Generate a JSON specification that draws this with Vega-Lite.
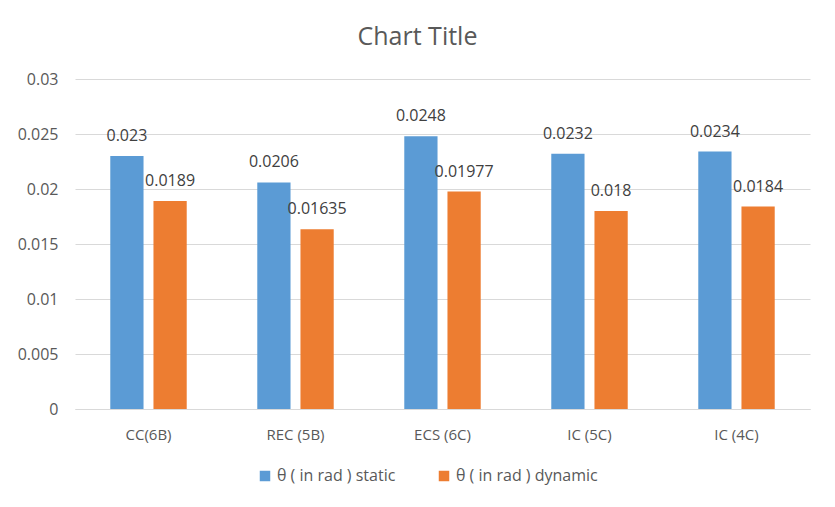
{
  "$schema": "https://vega.github.io/schema/vega-lite/v6.json",
  "autosize": {"type": "none"},
  "width": 735,
  "height": 330,
  "padding": {"left": 75, "top": 79, "right": 25, "bottom": 98},
  "background": "white",
  "config": {"view": {"stroke": null}},
  "title": {
    "text": "Chart Title",
    "fontSize": 25,
    "font": "Open Sans",
    "fontWeight": "normal",
    "color": "#595959",
    "anchor": "middle",
    "dx": -25,
    "offset": 21
  },
  "data": {
    "values": [
      {"cat": "CC(6B)", "series": "θ ( in rad ) static", "value": 0.023},
      {"cat": "CC(6B)", "series": "θ ( in rad ) dynamic", "value": 0.0189},
      {"cat": "REC (5B)", "series": "θ ( in rad ) static", "value": 0.0206},
      {"cat": "REC (5B)", "series": "θ ( in rad ) dynamic", "value": 0.01635},
      {"cat": "ECS (6C)", "series": "θ ( in rad ) static", "value": 0.0248},
      {"cat": "ECS (6C)", "series": "θ ( in rad ) dynamic", "value": 0.01977},
      {"cat": "IC (5C)", "series": "θ ( in rad ) static", "value": 0.0232},
      {"cat": "IC (5C)", "series": "θ ( in rad ) dynamic", "value": 0.018},
      {"cat": "IC (4C)", "series": "θ ( in rad ) static", "value": 0.0234},
      {"cat": "IC (4C)", "series": "θ ( in rad ) dynamic", "value": 0.0184}
    ]
  },
  "encoding": {
    "x": {
      "field": "cat",
      "type": "nominal",
      "sort": null,
      "scale": {"paddingInner": 0.48, "paddingOuter": 0.24},
      "axis": {
        "title": null,
        "labelAngle": 0,
        "ticks": false,
        "domainColor": "#D9D9D9",
        "labelColor": "#595959",
        "labelFont": "Open Sans",
        "labelFontSize": 15,
        "labelPadding": 18,
        "grid": false
      }
    },
    "xOffset": {
      "field": "series",
      "type": "nominal",
      "sort": ["θ ( in rad ) static", "θ ( in rad ) dynamic"],
      "scale": {"paddingInner": 0.23, "paddingOuter": 0}
    },
    "y": {
      "field": "value",
      "type": "quantitative",
      "scale": {"domain": [0, 0.03], "nice": false},
      "axis": {
        "title": null,
        "values": [0, 0.005, 0.01, 0.015, 0.02, 0.025, 0.03],
        "format": "~g",
        "ticks": false,
        "domain": false,
        "gridColor": "#D9D9D9",
        "labelColor": "#595959",
        "labelFont": "Open Sans",
        "labelFontSize": 16,
        "labelPadding": 17
      }
    }
  },
  "layer": [
    {
      "mark": {"type": "bar"},
      "encoding": {
        "color": {
          "field": "series",
          "type": "nominal",
          "sort": ["θ ( in rad ) static", "θ ( in rad ) dynamic"],
          "scale": {"range": ["#5B9BD5", "#ED7D31"]},
          "legend": {
            "title": null,
            "orient": "none",
            "direction": "horizontal",
            "legendX": 182,
            "legendY": 389,
            "symbolType": "square",
            "symbolSize": 110,
            "symbolStrokeWidth": 0,
            "labelFont": "Open Sans",
            "labelFontSize": 16,
            "labelColor": "#595959",
            "labelOffset": 4,
            "columnPadding": 40
          }
        }
      }
    },
    {
      "mark": {
        "type": "text",
        "baseline": "bottom",
        "dy": -12,
        "font": "Open Sans",
        "fontSize": 16,
        "color": "#404040"
      },
      "encoding": {
        "text": {"field": "value", "type": "nominal"}
      }
    }
  ]
}
